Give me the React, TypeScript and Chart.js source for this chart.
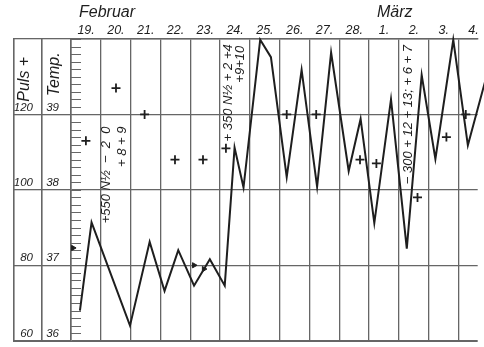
import React, { useEffect, useRef } from 'react';
import { Chart, registerables } from 'chart.js';

Chart.register(...registerables);

// ---- data ----
const dateLabels = ['19.', '20.', '21.', '22.', '23.', '24.', '25.', '26.', '27.', '28.', '1.', '2.', '3.', '4.'];
const monthNames = ['Februar', 'März'];
const monthStartDays = [0, 10];

// temperature curve (°C), x = day index (0 = 19. Februar)
const tempDays = [0.30, 0.69, 1.98, 2.64, 3.14, 3.60, 4.13, 4.66, 5.16, 5.49, 5.79, 6.35, 6.71, 7.24, 7.74, 8.26, 8.73, 9.32, 9.72, 10.18, 10.74, 11.27, 11.77, 12.23, 12.83, 13.32, 13.90];
const tempValues = [36.40, 37.57, 36.20, 37.31, 36.66, 37.20, 36.73, 37.08, 36.73, 38.56, 38.03, 39.99, 39.76, 38.17, 39.59, 38.04, 39.82, 38.25, 38.94, 37.56, 39.20, 37.22, 39.52, 38.41, 39.99, 38.59, 39.44];

// pulse (+ marks)
const pulseDays = [0.50, 1.51, 2.47, 3.49, 4.43, 5.20, 7.24, 8.23, 9.70, 10.25, 11.63, 12.60, 13.25];
const pulseValues = [113, 127, 120, 108, 108, 111, 120, 120, 108, 107, 98, 114, 120];

// small arrow marks
const markDays = [0.07, 4.13, 4.46];
const markTemps = [37.23, 37.0, 36.95];

// rotated notes
const noteTexts = ['+550 N½  −  2  0', '+ 8 + 9', '+ 350 N½ + 2 +4', '+9+10', '− 300 + 12 + 13; + 6 + 7'];
const noteDays = [1.19, 1.72, 5.27, 5.67, 11.31];
const noteTemps = [38.84, 38.84, 39.93, 39.91, 39.92];

const tempMin = 36, tempMax = 40, pulseMin = 60, pulseMax = 140;

// ---- styles ----
const INK = '#1e1e1e';
const GRID = '#666666';
const FONT = '"Liberation Sans Narrow", "Liberation Sans", Arial, sans-serif';

const decorPlugin = {
  id: 'decor',
  beforeDatasetsDraw(chart: any) {
    const { ctx, chartArea, scales } = chart;
    const yT = scales.yTemp;
    const yP = scales.yPulse;
    ctx.save();
    ctx.strokeStyle = GRID;
    ctx.lineWidth = 1;
    for (let i = 0; i <= (tempMax - tempMin) * 10; i++) {
      const py = Math.round(yT.getPixelForValue(tempMin + i / 10)) + 0.5;
      ctx.beginPath();
      ctx.moveTo(chartArea.left, py);
      ctx.lineTo(chartArea.left + 10, py);
      ctx.stroke();
    }
    ctx.lineWidth = 1.6;
    ctx.beginPath();
    ctx.moveTo(yP.left + 0.8, chartArea.top);
    ctx.lineTo(yP.left + 0.8, chartArea.bottom);
    ctx.stroke();
    ctx.restore();
  },
  afterDatasetsDraw(chart: any) {
    const { ctx, scales } = chart;
    const x = scales.x;
    const yT = scales.yTemp;
    ctx.save();
    ctx.fillStyle = INK;
    // month names
    ctx.font = `italic 16px ${FONT}`;
    ctx.textAlign = 'left';
    ctx.textBaseline = 'middle';
    monthNames.forEach((m, i) => {
      ctx.fillText(m, x.getPixelForValue(monthStartDays[i] + 0.27), 13);
    });
    // rotated notes
    ctx.font = `italic 13px ${FONT}`;
    noteTexts.forEach((t, i) => {
      ctx.save();
      ctx.translate(x.getPixelForValue(noteDays[i]), yT.getPixelForValue(noteTemps[i]));
      ctx.rotate(-Math.PI / 2);
      ctx.textAlign = 'right';
      ctx.textBaseline = 'middle';
      ctx.fillText(t, 0, 0);
      ctx.restore();
    });
    ctx.restore();
  },
};

export default function App() {
  const ref = useRef<HTMLCanvasElement | null>(null);

  useEffect(() => {
    if (!ref.current) return;
    const xTickFont = { family: FONT, size: 12.5, style: 'italic' as const };
    const yTickFont = { family: FONT, size: 11.5, style: 'italic' as const };
    const chart = new Chart(ref.current, {
      type: 'line',
      data: {
        datasets: [
          {
            label: 'Temp.',
            data: tempDays.map((d, i) => ({ x: d, y: tempValues[i] })),
            yAxisID: 'yTemp',
            borderColor: INK,
            borderWidth: 2,
            pointRadius: 0,
            tension: 0,
            clip: false as any,
          },
          {
            label: 'Puls',
            data: pulseDays.map((d, i) => ({ x: d, y: pulseValues[i] })),
            yAxisID: 'yPulse',
            showLine: false,
            pointStyle: 'cross',
            pointRadius: 4.5,
            pointBorderWidth: 1.8,
            borderColor: INK,
            backgroundColor: INK,
          },
          {
            label: 'marks',
            data: markDays.map((d, i) => ({ x: d, y: markTemps[i] })),
            yAxisID: 'yTemp',
            showLine: false,
            pointStyle: 'triangle',
            pointRotation: 90,
            pointRadius: 3,
            borderColor: INK,
            backgroundColor: INK,
          },
        ],
      },
      options: {
        animation: false,
        responsive: false,
        layout: { padding: { left: 13, top: 0, right: 0, bottom: 1.3 } },
        plugins: { legend: { display: false }, tooltip: { enabled: false } },
        scales: {
          x: {
            type: 'linear',
            position: 'top',
            min: 0,
            max: 13.65,
            afterFit: (s: any) => { s.height = 39; s.paddingLeft = 0; s.paddingRight = 0; },
            grid: { color: GRID, lineWidth: 1.3, drawTicks: false },
            border: { display: true, color: GRID, width: 1.6 },
            ticks: {
              stepSize: 1,
              includeBounds: false,
              autoSkip: false,
              maxRotation: 0,
              padding: 1,
              labelOffset: 15.1,
              color: INK,
              font: xTickFont,
              callback: (v: any) => (Number.isInteger(v) && dateLabels[v] ? dateLabels[v] : ''),
            },
          },
          yTemp: {
            type: 'linear',
            position: 'left',
            weight: 0,
            min: tempMin,
            max: tempMax,
            afterFit: (s: any) => { s.width = 29; s.paddingTop = 0; s.paddingBottom = 0; },
            grid: {
              color: GRID,
              lineWidth: (c: any) => (c.tick && c.tick.value === tempMin ? 2 : 1.3),
              tickLength: 29,
            },
            border: { display: true, color: GRID, width: 1.6 },
            ticks: {
              stepSize: 1,
              crossAlign: 'near',
              padding: -17,
              labelOffset: -7,
              color: INK,
              font: yTickFont,
              callback: (v: any) => (v === tempMax ? '' : String(v)),
            },
            title: {
              display: true,
              text: 'Temp.   ',
              align: 'end',
              color: INK,
              padding: { top: 3.4, bottom: 0 },
              font: { family: FONT, size: 16, style: 'italic' },
            },
          },
          yPulse: {
            type: 'linear',
            position: 'left',
            weight: 1,
            min: pulseMin,
            max: pulseMax,
            afterFit: (s: any) => { s.width = 29; s.paddingTop = 0; s.paddingBottom = 0; },
            grid: {
              color: GRID,
              lineWidth: (c: any) => (c.tick && c.tick.value === pulseMin ? 2 : 1.3),
              tickLength: 29,
              drawOnChartArea: false,
            },
            border: { display: true, color: GRID, width: 1.6 },
            ticks: {
              stepSize: 20,
              crossAlign: 'near',
              padding: -20,
              labelOffset: -7,
              color: INK,
              font: yTickFont,
              callback: (v: any) => (v === pulseMax ? '' : String(v)),
            },
            title: {
              display: true,
              text: 'Puls +    ',
              align: 'end',
              color: INK,
              padding: { top: 2.4, bottom: 0 },
              font: { family: FONT, size: 16, style: 'italic' },
            },
          },
        } as any,
      },
      plugins: [decorPlugin],
    });
    return () => chart.destroy();
  }, []);

  return (
    <div style={{ position: 'fixed', left: 0, top: 0, width: 484, height: 347, overflow: 'hidden', background: '#fff' }}>
      <canvas ref={ref} width={484} height={347} style={{ display: 'block' }} />
    </div>
  );
}
